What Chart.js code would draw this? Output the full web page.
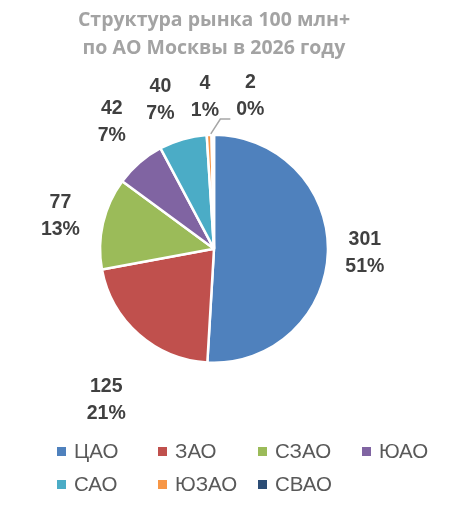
<!DOCTYPE html>
<html>
<head>
<meta charset="utf-8">
<script src="https://cdn.jsdelivr.net/npm/chart.js@4.4.0/dist/chart.umd.min.js"></script>
<style>
  html, body { margin: 0; padding: 0; background: #fff; }
  #wrap { width: 455px; height: 514px; }
</style>
</head>
<body>
<div id="wrap"><canvas id="pieChart" width="455" height="514"></canvas></div>
<script>
// --- Data ---
const titleLines = ["Структура рынка 100 млн+", "по АО Москвы в 2026 году"];
const districts = ["ЦАО", "ЗАО", "СЗАО", "ЮАО", "САО", "ЮЗАО", "СВАО"];
const counts = [301, 125, 77, 42, 40, 4, 2];
const sliceColors = ["#4F81BD", "#C0504D", "#9BBB59", "#8064A2", "#4BACC6", "#F79646", "#2C4D75"];

// label placement tweaks (extra distance past the rim, angle nudge in degrees)
const labelPad = [37, 72, 43, 49, 44, 38, 43];
const labelNudge = [0, -6, -1, 2, -4, -1, 14];

const FONT = "'Liberation Sans', Arial, sans-serif";

// --- Data labels: value + percent, outside the pie ---
const pieLabels = {
    id: 'pieLabels',
    afterDatasetsDraw(chart) {
        const ctx = chart.ctx;
        const meta = chart.getDatasetMeta(0);
        const data = chart.data.datasets[0].data;
        const total = data.reduce((a, b) => a + b, 0);
        ctx.save();
        ctx.font = "bold 19.5px " + FONT;
        ctx.fillStyle = '#404040';
        ctx.textAlign = 'center';
        ctx.textBaseline = 'middle';
        meta.data.forEach((arc, i) => {
            const p = arc.getProps(['x', 'y', 'startAngle', 'endAngle', 'outerRadius'], true);
            const mid = (p.startAngle + p.endAngle) / 2;
            const ang = mid + labelNudge[i] * Math.PI / 180;
            const d = p.outerRadius + labelPad[i];
            const lx = p.x + Math.cos(ang) * d;
            const ly = p.y + Math.sin(ang) * d;
            ctx.fillText(String(data[i]), lx, ly - 13.5);
            ctx.fillText(Math.round(data[i] / total * 100) + '%', lx, ly + 13.5);

            // leader line for the thinnest slice
            if (i === data.length - 1) {
                const sx = p.x + Math.cos(mid) * (p.outerRadius + 1);
                const sy = p.y + Math.sin(mid) * (p.outerRadius + 1);
                const ex = lx - 20, ey = ly + 23;
                ctx.strokeStyle = '#A6A6A6';
                ctx.lineWidth = 1.5;
                ctx.beginPath();
                ctx.moveTo(sx - 2, sy);
                ctx.lineTo(ex - 10, ey);
                ctx.lineTo(ex, ey);
                ctx.stroke();
            }
        });
        ctx.restore();
    }
};

// --- Legend laid out in fixed columns like the Excel one ---
const gridLegend = {
    id: 'gridLegend',
    afterDraw(chart) {
        const ctx = chart.ctx;
        const cols = [57, 158, 258, 362];
        const rows = [452, 485];
        const colors = chart.data.datasets[0].backgroundColor;
        ctx.save();
        ctx.font = "20.5px " + FONT;
        ctx.textBaseline = 'middle';
        ctx.textAlign = 'left';
        chart.data.labels.forEach((lab, i) => {
            const x = cols[i % 4];
            const y = rows[Math.floor(i / 4)];
            ctx.fillStyle = colors[i];
            ctx.fillRect(x, y - 5, 9, 9);
            ctx.fillStyle = '#595959';
            ctx.fillText(lab, x + 17, y);
        });
        ctx.restore();
    }
};

new Chart(document.getElementById('pieChart'), {
    type: 'pie',
    data: {
        labels: districts,
        datasets: [{
            data: counts,
            backgroundColor: sliceColors,
            borderColor: '#ffffff',
            borderWidth: 2.5
        }]
    },
    options: {
        responsive: false,
        animation: false,
        devicePixelRatio: 1,
        layout: { padding: { left: 0, right: 27, top: 0, bottom: 150 } },
        plugins: {
            legend: { display: false },
            tooltip: { enabled: false },
            title: {
                display: true,
                text: titleLines,
                color: '#A3A3A3',
                font: { family: "'Open Sans', sans-serif", size: 19.5, weight: 'bold', lineHeight: 1.4 },
                padding: { top: 7, bottom: 72 }
            }
        }
    },
    plugins: [pieLabels, gridLegend]
});
</script>
</body>
</html>
